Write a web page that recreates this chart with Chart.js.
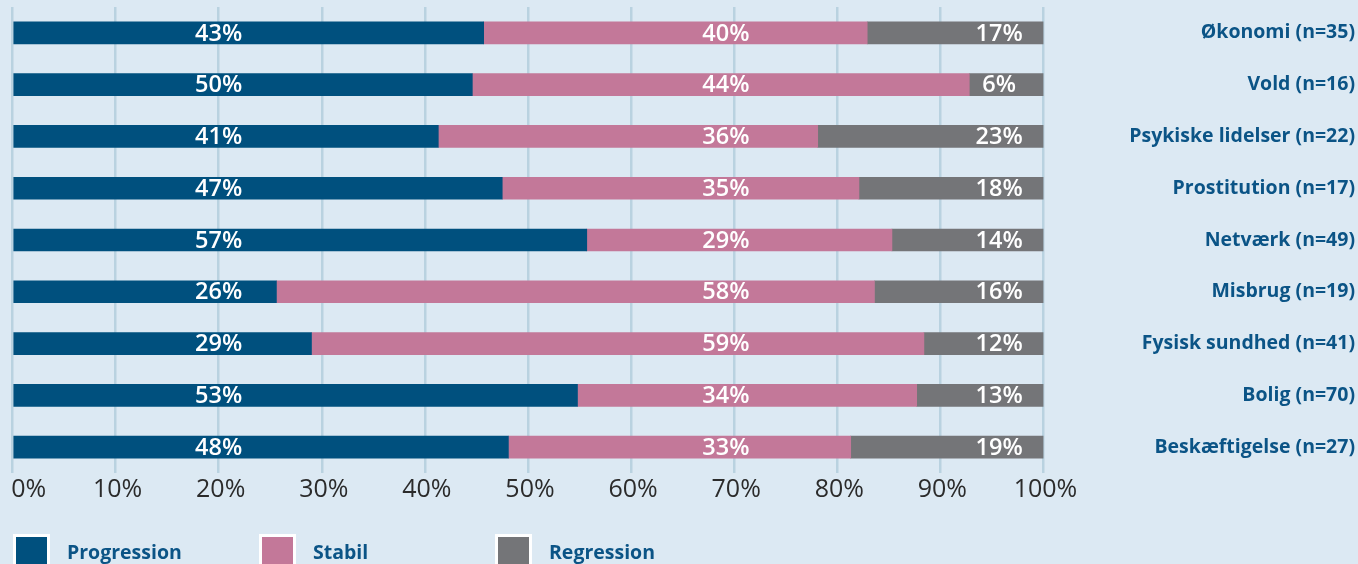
<!DOCTYPE html>
<html>
<head>
<meta charset="utf-8">
<script src="https://cdn.jsdelivr.net/npm/chart.js@4/dist/chart.umd.min.js"></script>
<style>
  body { margin: 0; background: #dce9f3; }
  .wrap { position: relative; width: 1358px; height: 564px; overflow: hidden; background: #dce9f3; }
  .legend { position: absolute; left: 13px; top: 534px; display: flex; }
  .legendItem { display: flex; align-items: flex-start; }
  .legendBox { width: 31px; height: 31px; border: 3px solid #fff; }
  .legendText { margin-left: 17px; margin-top: 8px; font: 700 19.5px "Open Sans", sans-serif; line-height: 20px; color: #0b5486; }
</style>
</head>
<body>
<div class="wrap">
  <canvas id="chart"></canvas>
  <div class="legend" id="legend"></div>
</div>
<script>
const categories = ["Økonomi (n=35)", "Vold (n=16)", "Psykiske lidelser (n=22)", "Prostitution (n=17)", "Netværk (n=49)", "Misbrug (n=19)", "Fysisk sundhed (n=41)", "Bolig (n=70)", "Beskæftigelse (n=27)"]

// bar lengths as drawn (percent)
const progression = [45.7, 44.6, 41.3, 47.5, 55.7, 25.6, 29.0, 54.8, 48.1]
const stabil = [37.2, 48.2, 36.8, 34.6, 29.6, 58.0, 59.4, 32.9, 33.2]
const regression = [17.1, 7.2, 21.9, 17.9, 14.7, 16.4, 11.6, 12.3, 18.7]

// printed labels on the bars
const progressionLabels = ["43%", "50%", "41%", "47%", "57%", "26%", "29%", "53%", "48%"]
const stabilLabels = ["40%", "44%", "36%", "35%", "29%", "58%", "59%", "34%", "33%"]
const regressionLabels = ["17%", "6%", "23%", "18%", "14%", "16%", "12%", "13%", "19%"]

const seriesNames = ["Progression", "Stabil", "Regression"]
const xTicks = [0, 10, 20, 30, 40, 50, 60, 70, 80, 90, 100]

const colors = ["#00507e", "#c37899", "#747578"]

const barLabels = {
     id: "barLabels",
     afterDatasetsDraw(chart, args, opts) {
          const ctx = chart.ctx
          const x = chart.scales.x
          const allLabels = [progressionLabels, stabilLabels, regressionLabels]
          ctx.save()
          ctx.fillStyle = "#fff"
          ctx.font = "600 23.5px 'Open Sans', sans-serif"
          ctx.textAlign = "center"
          ctx.textBaseline = "middle"
          chart.data.datasets.forEach((ds, i) => {
               const meta = chart.getDatasetMeta(i)
               meta.data.forEach((bar, j) => {
                    ctx.fillText(allLabels[i][j], x.getPixelForValue(opts.at[i]), bar.y + 1)
               })
          })
          ctx.restore()
     }
}

const chart = new Chart(document.getElementById("chart"), {
     type: "bar",
     data: {
          labels: categories,
          datasets: [
               { label: seriesNames[0], data: progression, backgroundColor: colors[0] },
               { label: seriesNames[1], data: stabil, backgroundColor: colors[1] },
               { label: seriesNames[2], data: regression, backgroundColor: colors[2] }
          ]
     },
     options: {
          indexAxis: "y",
          responsive: true,
          maintainAspectRatio: false,
          animation: false,
          barThickness: 22,
          layout: { padding: { left: 12.5, right: 3, top: 7, bottom: 58 } },
          plugins: {
               legend: { display: false },
               tooltip: { enabled: false },
               barLabels: { at: [20, 69.2, 95.7] }
          },
          scales: {
               x: {
                    stacked: true,
                    min: 0,
                    max: 100,
                    afterBuildTicks: s => { s.ticks = xTicks.map(v => ({ value: v })) },
                    afterFit: s => { s.paddingLeft = 0; s.paddingRight = 0 },
                    border: { display: false },
                    grid: { color: "#b9d2e0", lineWidth: 2.5, drawTicks: false },
                    ticks: {
                         padding: 1.5,
                         labelOffset: 2,
                         color: "#2b2b2b",
                         font: { family: "'Open Sans', sans-serif", size: 25 },
                         callback: v => (v === 0 ? "\u2007\u2007" : "") + v + "%"
                    }
               },
               y: {
                    stacked: true,
                    position: "right",
                    afterFit: s => { s.width = 311.5; s.paddingTop = 0; s.paddingBottom = 0 },
                    border: { display: false },
                    grid: { display: false },
                    ticks: {
                         crossAlign: "far",
                         padding: 0,
                         color: "#0b5486",
                         font: { family: "'Open Sans', sans-serif", size: 19.5, weight: "bold" }
                    }
               }
          }
     },
     plugins: [barLabels]
})

const legend = document.getElementById("legend")
const itemWidths = [246, 236, 200]
chart.data.datasets.forEach((ds, i) => {
     const item = document.createElement("div")
     item.classList.add("legendItem")
     item.style.width = itemWidths[i] + "px"
     const box = document.createElement("div")
     box.classList.add("legendBox")
     box.style.background = ds.backgroundColor
     const text = document.createElement("div")
     text.classList.add("legendText")
     text.textContent = ds.label
     item.append(box, text)
     legend.append(item)
})
</script>
</body>
</html>
